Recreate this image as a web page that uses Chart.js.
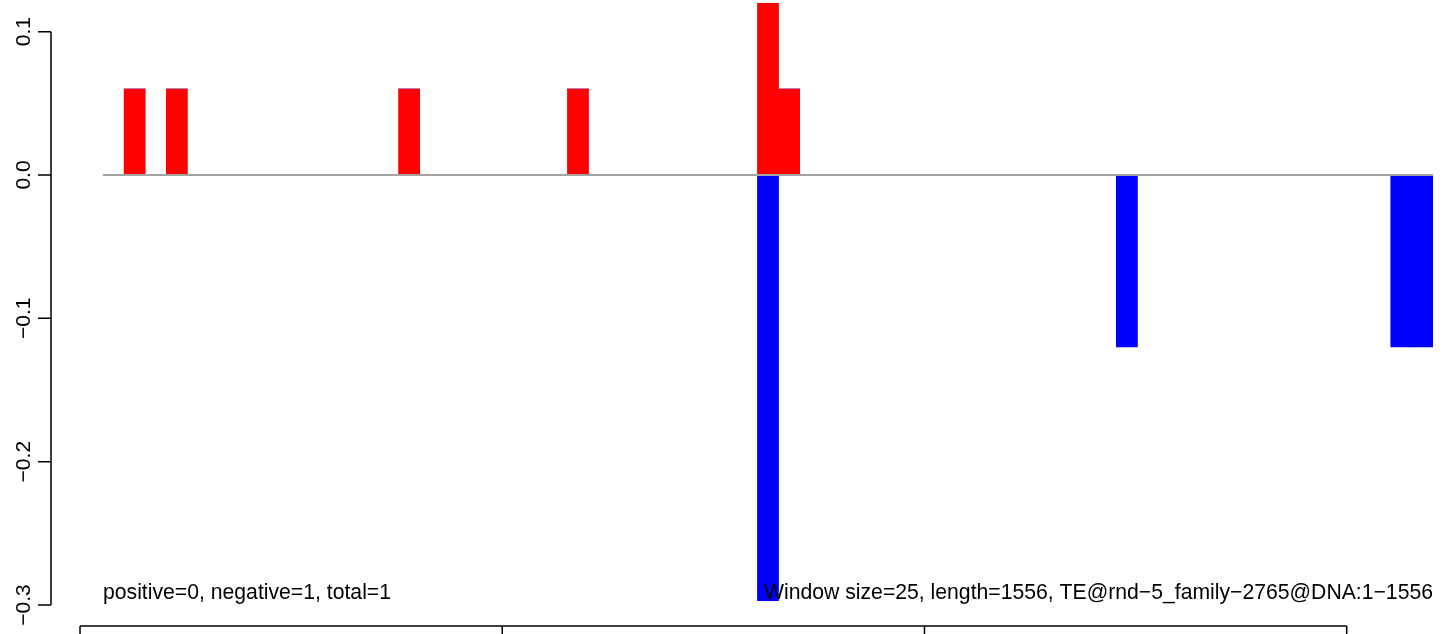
<!DOCTYPE html>
<html>
<head>
<meta charset="utf-8">
<script src="https://cdn.jsdelivr.net/npm/chart.js@4/dist/chart.umd.min.js"></script>
<style>
  html, body { margin: 0; padding: 0; background: #ffffff; }
  #wrap { width: 1444px; height: 634px; }
</style>
</head>
<body>
<div id="wrap"><canvas id="myChart" width="1444" height="634"></canvas></div>
<script>
// 63 windows of 25 bp along the TE (window number as category)
const windowIds = [
  1, 2, 3, 4, 5, 6, 7, 8, 9, 10,
  11, 12, 13, 14, 15, 16, 17, 18, 19, 20,
  21, 22, 23, 24, 25, 26, 27, 28, 29, 30,
  31, 32, 33, 34, 35, 36, 37, 38, 39, 40,
  41, 42, 43, 44, 45, 46, 47, 48, 49, 50,
  51, 52, 53, 54, 55, 56, 57, 58, 59, 60,
  61, 62, 63
];

const positiveVals = [
  0, 0.06, 0, 0.06, 0, 0, 0, 0, 0, 0,
  0, 0, 0, 0, 0.06, 0, 0, 0, 0, 0,
  0, 0, 0.06, 0, 0, 0, 0, 0, 0, 0,
  0, 0.12, 0.06, 0, 0, 0, 0, 0, 0, 0,
  0, 0, 0, 0, 0, 0, 0, 0, 0, 0,
  0, 0, 0, 0, 0, 0, 0, 0, 0, 0,
  0, 0, 0
];

const negativeVals = [
  0, 0, 0, 0, 0, 0, 0, 0, 0, 0,
  0, 0, 0, 0, 0, 0, 0, 0, 0, 0,
  0, 0, 0, 0, 0, 0, 0, 0, 0, 0,
  0, -0.297, 0, 0, 0, 0, 0, 0, 0, 0,
  0, 0, 0, 0, 0, 0, 0, 0, -0.12, 0,
  0, 0, 0, 0, 0, 0, 0, 0, 0, 0,
  0, -0.12, -0.12
];

const yTicks = [0.1, 0.0, -0.1, -0.2, -0.3];
const yTickLabels = ['0.1', '0.0', '\u22120.1', '\u22120.2', '\u22120.3'];
const posTicks = [0, 500, 1000, 1500];
const windowSize = 25;
const posStart = 27.2; // bp at the left edge of the first window

const leftNote = 'positive=0, negative=1, total=1';
const rightNote = 'Window size=25, length=1556, TE@rnd\u22125_family\u22122765@DNA:1\u22121556';

const FONT = '"Liberation Sans", Arial, Helvetica, sans-serif';

// R-style axes, zero line and notes, drawn from the scales
const rDecor = {
  id: 'rDecor',
  afterDatasetsDraw(chart) {
    const { ctx, chartArea } = chart;
    const x = chart.scales.x;
    const y = chart.scales.y;
    const posPixel = v => x.getPixelForValue((v - posStart) / windowSize - 0.5);
    ctx.save();

    // zero line
    ctx.strokeStyle = '#a3a3a3';
    ctx.lineWidth = 2;
    ctx.beginPath();
    ctx.moveTo(chartArea.left, y.getPixelForValue(0));
    ctx.lineTo(chartArea.right, y.getPixelForValue(0));
    ctx.stroke();

    // left axis
    const ax = chartArea.left - 52;
    ctx.strokeStyle = '#000000';
    ctx.lineWidth = 1.5;
    ctx.beginPath();
    ctx.moveTo(ax, y.getPixelForValue(yTicks[0]));
    ctx.lineTo(ax, y.getPixelForValue(yTicks[yTicks.length - 1]));
    yTicks.forEach(v => {
      const py = y.getPixelForValue(v);
      ctx.moveTo(ax, py);
      ctx.lineTo(ax - 13, py);
    });
    ctx.stroke();

    ctx.fillStyle = '#000000';
    ctx.font = '21px ' + FONT;
    ctx.textAlign = 'center';
    ctx.textBaseline = 'alphabetic';
    yTicks.forEach((v, i) => {
      ctx.save();
      ctx.translate(ax - 21, y.getPixelForValue(v));
      ctx.rotate(-Math.PI / 2);
      ctx.fillText(yTickLabels[i], 0, 0);
      ctx.restore();
    });

    // bottom position axis (labels fall off the canvas)
    const by = chartArea.bottom + 21;
    ctx.beginPath();
    ctx.moveTo(posPixel(posTicks[0]), by);
    ctx.lineTo(posPixel(posTicks[posTicks.length - 1]), by);
    posTicks.forEach(v => {
      const px = posPixel(v);
      ctx.moveTo(px, by);
      ctx.lineTo(px, by + 13);
    });
    ctx.stroke();

    // notes
    ctx.font = '21.2px ' + FONT;
    const ny = y.getPixelForValue(-0.3) - 6;
    ctx.textAlign = 'left';
    ctx.fillText(leftNote, chartArea.left, ny);
    ctx.textAlign = 'right';
    ctx.fillText(rightNote, chartArea.right, ny);

    ctx.restore();
  }
};

new Chart(document.getElementById('myChart').getContext('2d'), {
  type: 'bar',
  data: {
    labels: windowIds,
    datasets: [{
      data: positiveVals,
      backgroundColor: '#ff0000',
      borderWidth: 0,
      barPercentage: 1,
      categoryPercentage: 1
    }, {
      data: negativeVals,
      backgroundColor: '#0000ff',
      borderWidth: 0,
      barPercentage: 1,
      categoryPercentage: 1
    }]
  },
  options: {
    responsive: false,
    animation: false,
    devicePixelRatio: 1,
    layout: {
      padding: { left: 103, right: 11, top: 3, bottom: 29 }
    },
    scales: {
      x: {
        stacked: true,
        display: false
      },
      y: {
        stacked: true,
        display: false,
        min: -0.3,
        max: 0.12
      }
    },
    plugins: {
      legend: { display: false },
      tooltip: { enabled: false }
    }
  },
  plugins: [rDecor]
});
</script>
</body>
</html>
